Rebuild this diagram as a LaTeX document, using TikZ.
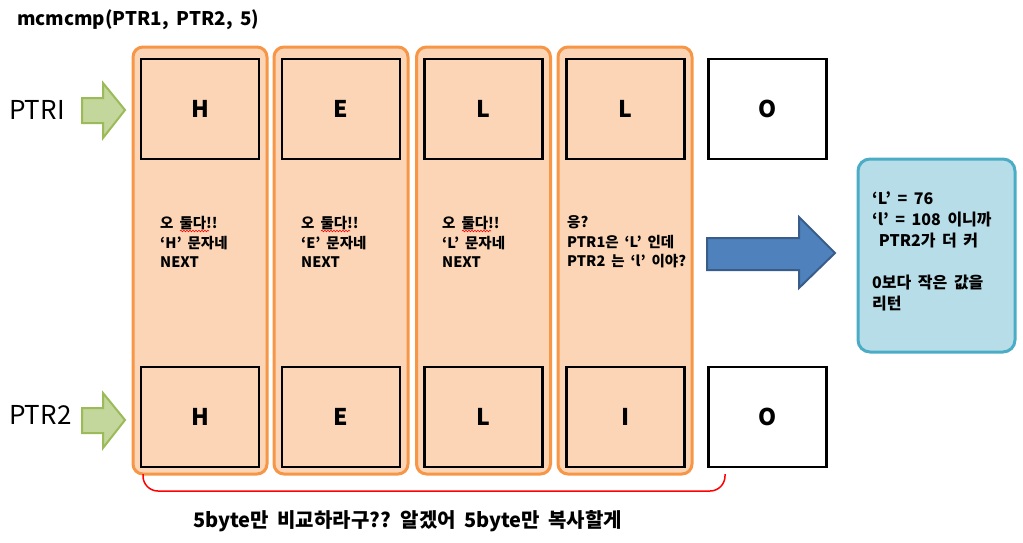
\documentclass[tikz,border=0pt]{standalone}
\usepackage{fontspec}
\newfontfamily\kr{Noto Sans CJK KR}
\newfontfamily\krw[WordSpace=1.8]{Noto Sans CJK KR}
\setmainfont{Noto Sans CJK KR}
\usetikzlibrary{decorations.pathmorphing}
\definecolor{orfill}{HTML}{FBD5B5}
\definecolor{ordraw}{HTML}{F79646}
\definecolor{grfill}{HTML}{C3D69B}
\definecolor{grdraw}{HTML}{9BBB59}
\definecolor{blfill}{HTML}{4F81BD}
\definecolor{bldraw}{HTML}{385D8A}
\definecolor{cyfill}{HTML}{B7DDE8}
\definecolor{cydraw}{HTML}{4BACC6}
\begin{document}
\begin{tikzpicture}[x=1pt,y=-1pt,
  col/.style={draw=ordraw, fill=orfill, line width=3pt, rounded corners=10pt, minimum width=134pt, minimum height=427pt, inner sep=0pt},
  cell/.style={draw=black, line width=2.5pt, fill=orfill, minimum width=118pt, minimum height=100pt, inner sep=0pt, font=\kr\bfseries\fontsize{23}{30}\selectfont},
  wcell/.style={cell, fill=white},
  note/.style={anchor=west, align=left, inner sep=0pt, font=\krw\bfseries\fontsize{14.5}{19.5}\selectfont},
  garrow/.style={draw=grdraw, fill=grfill, line width=2pt, line join=miter},
  barrow/.style={draw=bldraw, fill=blfill, line width=2pt, line join=miter}]
\useasboundingbox (0,0) rectangle (1023,542);

% title
\node[anchor=west, inner sep=0pt, font=\kr\bfseries\fontsize{18.8}{23}\selectfont] (title) at (17,20) {mcmcmp(PTR1, PTR2, 5)};

% columns
\node[col] (c1) at (200,260.5) {};
\node[col] (c2) at (341,260.5) {};
\node[col] (c3) at (483.5,260.5) {};
\node[col] (c4) at (625,260.5) {};

% top cells
\node[cell] (t1) at (200,109) {H};
\node[cell] (t2) at (341,109) {E};
\node[cell] (t3) at (483.5,109) {L};
\node[cell] (t4) at (625.5,109) {L};
\node[wcell] (t5) at (767.5,109) {O};

% bottom cells
\node[cell] (b1) at (200,417) {H};
\node[cell] (b2) at (341,417) {E};
\node[cell] (b3) at (483.5,417) {L};
\node[cell] (b4) at (625.5,417) {I};
\node[wcell] (b5) at (767.5,417) {O};

% notes
\node[note] (n1) at (160,242) {오 둘다!!\\‘H’ 문자네\\NEXT};
\node[note] (n2) at (301,242) {오 둘다!!\\‘E’ 문자네\\NEXT};
\node[note] (n3) at (442,242) {오 둘다!!\\‘L’ 문자네\\NEXT};
\node[note] (n4) at (567,242) {응?\\PTR1은 ‘L’ 인데\\PTR2 는 ‘l’ 이야?};

% spell-check squiggles
\foreach \x in {180,321,462}{
  \draw[red, line width=0.6pt, decorate, decoration={snake, amplitude=0.8pt, segment length=3pt}] (\x,231) -- (\x+29,231);
}

% pointer labels
\node[anchor=west, inner sep=0pt, font=\kr\fontsize{26}{30}\selectfont] (p1) at (9,110) {PTRI};
\node[anchor=west, inner sep=0pt, font=\kr\fontsize{26}{30}\selectfont] (p2) at (9,415) {PTR2};

% green arrows
\draw[garrow] (82,98) -- (103,98) -- (103,83) -- (125,110) -- (103,138) -- (103,123) -- (82,123) -- cycle;
\draw[garrow] (82,408) -- (103,408) -- (103,393) -- (125,420) -- (103,448) -- (103,433) -- (82,433) -- cycle;

% blue arrow
\draw[barrow] (707,238) -- (799,238) -- (799,217) -- (835,253) -- (799,288) -- (799,270) -- (707,270) -- cycle;

% result box
\node[draw=cydraw, fill=cyfill, line width=3pt, rounded corners=12pt, minimum width=157pt, minimum height=193pt, inner sep=0pt] (res) at (936.5,255.5) {};
\node[anchor=west, align=left, inner sep=0pt, font=\krw\bfseries\fontsize{16}{21}\selectfont] (rt) at (872,251) {‘L’ = 76\\‘l’ = 108 이니까\\\ PTR2가 더 커\\[21pt]0보다 작은 값을\\리턴};

% brace
\coordinate (bl) at (143,474);
\coordinate (br) at (725,474);
\draw[red, line width=1.5pt, rounded corners=15pt] (bl) -- (143,491) -- (725,491) -- (br);

% bottom caption
\node[anchor=west, inner sep=0pt, font=\krw\bfseries\fontsize{20}{24}\selectfont] (cap) at (193,521) {5byte만 비교하라구?? 알겠어 5byte만 복사할게};
\end{tikzpicture}
\end{document}
